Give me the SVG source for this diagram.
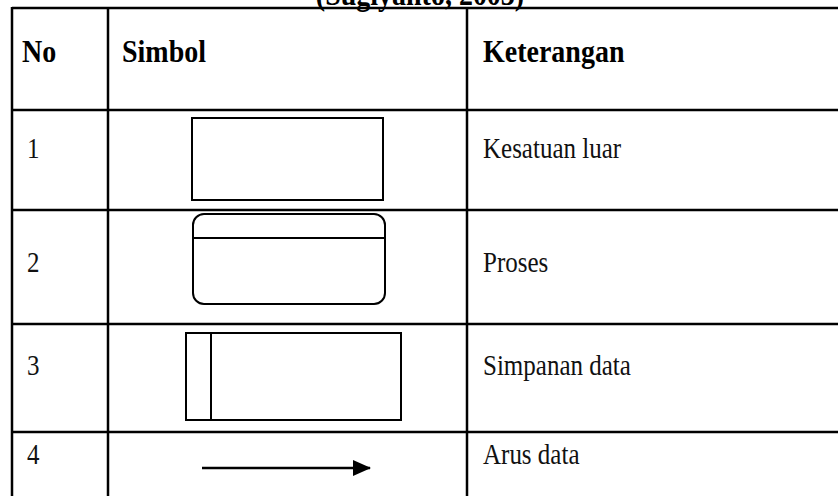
<svg xmlns="http://www.w3.org/2000/svg" width="838" height="496" viewBox="0 0 838 496">
<defs>
<style>
.grid{stroke:#000;stroke-width:2.5;fill:none}
.sym{stroke:#000;stroke-width:2;fill:#fff}
.hd{font-family:"Liberation Serif",serif;font-weight:bold;font-size:28px;fill:#000}
.tx{font-family:"Liberation Serif",serif;font-size:25px;fill:#111}
</style>
<marker id="ah" markerWidth="18" markerHeight="16" refX="17" refY="8" orient="auto" markerUnits="userSpaceOnUse" viewBox="0 0 18 16"><path d="M0,0 L18,8 L0,16 z" fill="#000"/></marker>
</defs>
<rect width="838" height="496" fill="#fff"/>
<text class="hd" transform="translate(420,5) scale(1,1.15)" text-anchor="middle">(Sugiyanto, 2003)</text>
<g id="table" class="grid">
<line x1="12" y1="8" x2="838" y2="8"/>
<line x1="12" y1="110" x2="838" y2="110"/>
<line x1="12" y1="210" x2="838" y2="210"/>
<line x1="12" y1="324" x2="838" y2="324"/>
<line x1="12" y1="432" x2="838" y2="432"/>
<line x1="12" y1="7" x2="12" y2="496"/>
<line x1="108" y1="7" x2="108" y2="496"/>
<line x1="467" y1="7" x2="467" y2="496"/>
</g>
<g id="header">
<text class="hd" transform="translate(22,62) scale(1,1.15)">No</text>
<text class="hd" transform="translate(122,62) scale(1,1.15)">Simbol</text>
<text class="hd" transform="translate(483,62) scale(1,1.15)">Keterangan</text>
</g>
<g id="row1">
<text class="tx" transform="translate(27,158) scale(1,1.2)">1</text>
<rect class="sym" x="192" y="118" width="191" height="82"/>
<text class="tx" transform="translate(483,158) scale(1,1.2)">Kesatuan luar</text>
</g>
<g id="row2">
<text class="tx" transform="translate(27,272) scale(1,1.2)">2</text>
<rect class="sym" x="193" y="214" width="192" height="90" rx="11"/>
<line class="sym" x1="193" y1="238" x2="385" y2="238"/>
<text class="tx" transform="translate(483,272) scale(1,1.2)">Proses</text>
</g>
<g id="row3">
<text class="tx" transform="translate(27,375) scale(1,1.2)">3</text>
<rect class="sym" x="186" y="333" width="215" height="87"/>
<line class="sym" x1="211" y1="333" x2="211" y2="420"/>
<text class="tx" transform="translate(483,375) scale(1,1.2)">Simpanan data</text>
</g>
<g id="row4">
<text class="tx" transform="translate(27,464) scale(1,1.2)">4</text>
<text class="tx" transform="translate(483,464) scale(1,1.2)">Arus data</text>
</g>
<g id="connectors">
<line x1="202" y1="468" x2="370" y2="468" stroke="#000" stroke-width="2.5" marker-end="url(#ah)"/>
</g>
</svg>
